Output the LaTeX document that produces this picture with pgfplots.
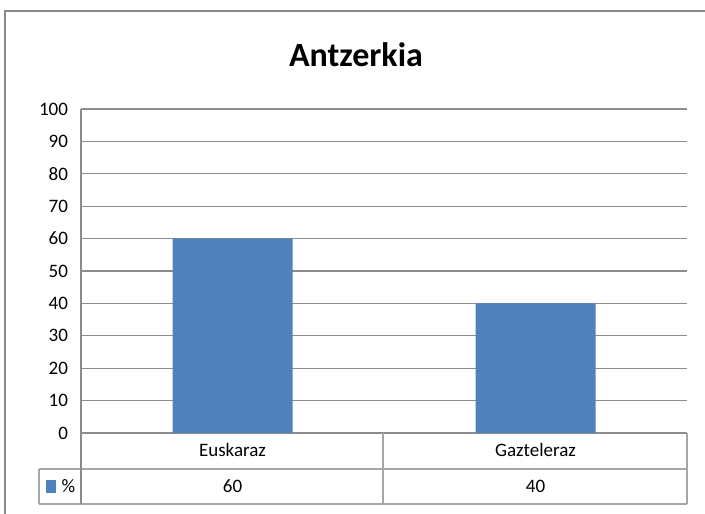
\documentclass[border=0pt]{standalone}
\usepackage{fontspec}
\setmainfont{Carlito}
\usepackage{pgfplots}
\pgfplotsset{compat=1.18}
\definecolor{barblue}{HTML}{4F81BD}
\definecolor{gridgray}{HTML}{8C8C8C}
\definecolor{tablegray}{HTML}{A6A6A6}
\definecolor{framegray}{HTML}{8A8A8A}
\begin{document}
\begin{tikzpicture}
% page = 705x513 px at 0.5pt per px, axis box starts at (0,0)
\useasboundingbox (-40.5pt,-40pt) rectangle (312pt,216.5pt);
\draw[framegray, line width=1.2pt] (-38pt,-60pt) -- (-38pt,211pt) -- (330pt,211pt);
\begin{axis}[
    at={(0pt,0pt)}, anchor=south west,
    scale only axis,
    width=303pt, height=162pt,
    xmin=-0.5, xmax=1.5,
    ymin=0, ymax=100,
    ytick={0,10,...,100},
    xtick={0,1},
    xticklabels={{Euskaraz\\60},{Gazteleraz\\40}},
    axis lines=left,
    axis line style={gridgray, line width=0.6pt, -},
    major tick length=0pt,
    ymajorgrids,
    grid style={gridgray, line width=0.6pt},
    ybar, bar width=60pt,
    tick label style={font=\fontsize{9.5}{17.75}\selectfont},
    xticklabel style={align=center, anchor=center, yshift=-17.6pt},
    yticklabel style={xshift=-3pt},
    /pgf/number format/assume math mode=true,
    clip=false,
]
\addplot[fill=barblue, draw=none] coordinates {(0,60) (1,40)};
\end{axis}
% data table lines
\draw[tablegray, line width=0.6pt] (-21pt,-18pt) -- (303pt,-18pt);
\draw[tablegray, line width=0.6pt] (-21pt,-35.5pt) -- (303pt,-35.5pt);
\draw[tablegray, line width=0.6pt] (-21pt,-18pt) -- (-21pt,-35.5pt);
\draw[gridgray, line width=0.6pt] (0pt,0pt) -- (0pt,-35.5pt);
\draw[tablegray, line width=0.6pt] (151pt,0pt) -- (151pt,-35.5pt);
\draw[tablegray, line width=0.6pt] (303pt,0pt) -- (303pt,-35.5pt);
% legend key
\fill[barblue] (-17.5pt,-30pt) rectangle (-12.5pt,-23.5pt);
\node[font=\fontsize{9.5}{11}\selectfont] at (-6.3pt,-26.75pt) {\%};
% title
\node[font=\fontsize{17}{20}\selectfont\bfseries] at (137.5pt,189pt) {Antzerkia};
\end{tikzpicture}
\end{document}
